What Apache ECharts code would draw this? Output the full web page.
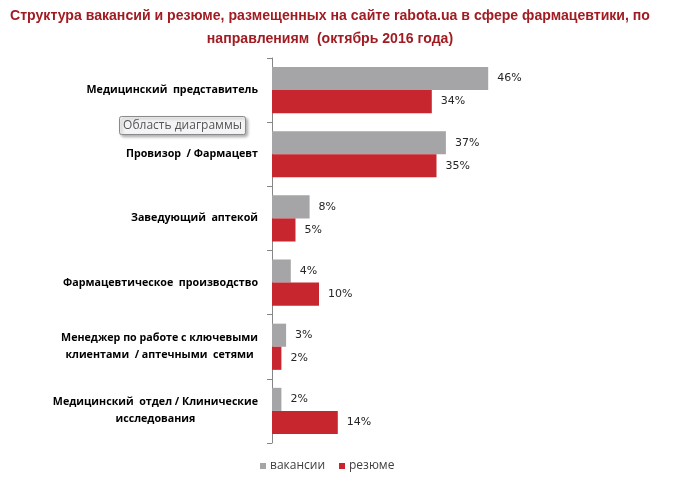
<!DOCTYPE html>
<html>
<head>
<meta charset="utf-8">
<script src="https://cdn.jsdelivr.net/npm/echarts@6/dist/echarts.min.js"></script>
<style>html,body{margin:0;padding:0;background:#fff}#c{width:674px;height:490px}</style>
</head>
<body>
<div id="c"></div>
<script>
const categories = [
  'Медицинский  представитель',
  'Провизор  / Фармацевт',
  'Заведующий  аптекой',
  'Фармацевтическое  производство',
  'Менеджер по работе с ключевыми\nклиентами  / аптечными  сетями',
  'Медицинский  отдел / Клинические\nисследования'
];
const vacancies = [46, 37, 8, 4, 3, 2];
const resumes = [34, 35, 5, 10, 2, 14];
const seriesNames = ['вакансии', 'резюме'];
const titleLines = [
  'Структура вакансий и резюме, размещенных на сайте rabota.ua в сфере фармацевтики, по',
  'направлениям  (октябрь 2016 года)'
];

const chart = echarts.init(document.getElementById('c'), null, {renderer: 'canvas'});
const valueLabel = {show: true, position: 'right', distance: 9, formatter: '{c}%', color: '#262626', fontSize: 11, fontFamily: '"DejaVu Sans", sans-serif'};
const titleFont = {color: '#a01c22', fontSize: 14.1, fontWeight: 'bold', fontFamily: '"Liberation Sans", Arial, sans-serif', lineHeight: 23};
chart.setOption({
  animation: false,
  backgroundColor: '#fff',
  title: {
    text: titleLines.map(s => '{t|' + s + '}').join('\n'),
    left: 10,
    top: 0,
    padding: [5, 0, 5, 0],
    textStyle: Object.assign({rich: {t: Object.assign({align: 'center'}, titleFont)}}, titleFont)
  },
  legend: {
    bottom: 13,
    left: 255,
    icon: 'rect',
    itemWidth: 6,
    itemHeight: 6,
    itemGap: 14,
    textStyle: {color: '#404040', fontSize: 12, fontFamily: '"Open Sans", sans-serif', padding: [0, 0, 0, -1]},
    data: seriesNames
  },
  grid: {left: 272, right: 167, top: 58, bottom: 47, containLabel: false},
  xAxis: {
    type: 'value', min: 0, max: 50, show: false
  },
  yAxis: {
    type: 'category',
    data: categories,
    inverse: true,
    axisLine: {show: true, lineStyle: {color: '#868686', width: 1}},
    axisTick: {show: true, length: 5, lineStyle: {color: '#868686'}},
    axisLabel: {
      margin: 14,
      color: '#000',
      fontSize: 10.7,
      fontWeight: 'bold',
      fontFamily: '"Open Sans", sans-serif',
      lineHeight: 17,
      formatter: v => v.split('\n').map(s => '{c|' + s + '}').join('\n'),
      rich: {c: {align: 'center', fontSize: 10.7, fontWeight: 'bold', color: '#000', fontFamily: '"Open Sans", sans-serif', lineHeight: 17}}
    }
  },
  series: [
    {
      name: seriesNames[0], type: 'bar', data: vacancies,
      itemStyle: {color: '#a5a5a8'},
      barGap: '0%', barCategoryGap: '28%',
      label: valueLabel
    },
    {
      name: seriesNames[1], type: 'bar', data: resumes,
      itemStyle: {color: '#c8262e'},
      barGap: '0%', barCategoryGap: '28%',
      label: valueLabel
    }
  ],
  graphic: [{
    type: 'group', left: 119, top: 116,
    children: [
      {type: 'rect', shape: {x: 0, y: 0, width: 126, height: 18, r: 2},
       style: {fill: '#f4f4f6', stroke: '#8a8a8a', lineWidth: 1, shadowBlur: 3, shadowOffsetX: 2, shadowOffsetY: 2, shadowColor: 'rgba(0,0,0,0.3)'}},
      {type: 'text', x: 63, y: 9, style: {text: 'Область диаграммы', fill: '#555', font: '12px "Open Sans", sans-serif', align: 'center', verticalAlign: 'middle'}}
    ]
  }]
});
</script>
</body>
</html>
